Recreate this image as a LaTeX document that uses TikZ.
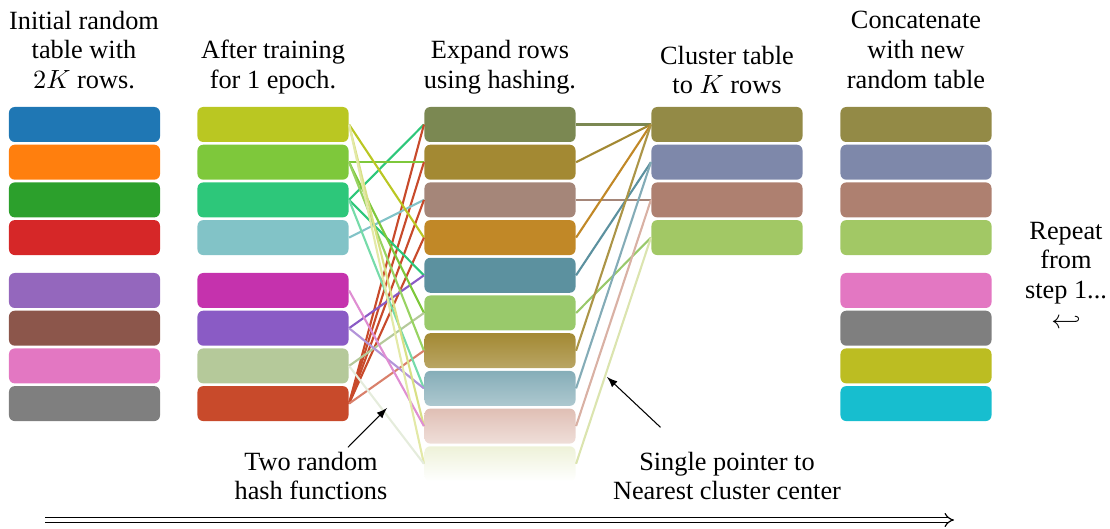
\documentclass[tikz,border=0pt]{standalone}
\usepackage{fontspec}
\setmainfont{Liberation Serif}
\usepackage{amsmath}
\usepackage{amssymb}
\usetikzlibrary{calc,arrows,arrows.meta,positioning}

% first table (tab10)
\definecolor{cinit1}{HTML}{1F77B4}
\definecolor{cinit2}{HTML}{FF7F0E}
\definecolor{cinit3}{HTML}{2CA02C}
\definecolor{cinit4}{HTML}{D62728}
\definecolor{cinit5}{HTML}{9467BD}
\definecolor{cinit6}{HTML}{8C564B}
\definecolor{cinit7}{HTML}{E377C2}
\definecolor{cinit8}{HTML}{7F7F7F}
% after one epoch
\definecolor{cepoch1}{RGB}{186,199,34}
\definecolor{cepoch2}{RGB}{126,200,59}
\definecolor{cepoch3}{RGB}{45,199,122}
\definecolor{cepoch4}{RGB}{130,195,199}
\definecolor{cepoch5}{RGB}{197,50,173}
\definecolor{cepoch6}{RGB}{138,91,197}
\definecolor{cepoch7}{RGB}{181,201,154}
\definecolor{cepoch8}{RGB}{200,74,43}
% expanded rows = mean of the two hashed rows
\colorlet{chash1}{cepoch3!50!cepoch8}
\colorlet{chash2}{cepoch2!50!cepoch8}
\colorlet{chash3}{cepoch4!50!cepoch8}
\colorlet{chash4}{cepoch1!50!cepoch8}
\colorlet{chash5}{cepoch3!50!cepoch6}
\colorlet{chash6}{cepoch2!50!cepoch7}
\colorlet{chash7}{cepoch2!50!cepoch8}
\colorlet{chash8}{cepoch3!50!cepoch6}
\colorlet{chash9}{cepoch1!50!cepoch5}
\colorlet{chash10}{cepoch1!50!cepoch7}
% cluster centers
\definecolor{cclust1}{RGB}{147,138,70}
\definecolor{cclust2}{RGB}{126,136,170}
\definecolor{cclust3}{RGB}{174,128,112}
\definecolor{cclust4}{RGB}{162,200,101}
% concatenated table
\colorlet{cconcat1}{cclust1}
\colorlet{cconcat2}{cclust2}
\colorlet{cconcat3}{cclust3}
\colorlet{cconcat4}{cclust4}
\definecolor{cconcat5}{HTML}{E377C2}
\definecolor{cconcat6}{HTML}{7F7F7F}
\definecolor{cconcat7}{HTML}{BCBD22}
\definecolor{cconcat8}{HTML}{17BECF}

\tikzset{
    rowbox/.style = {rectangle, rounded corners=2.2pt, inner sep=0pt,
        minimum width=57.4pt, minimum height=13.3pt},
    title/.style = {align=center, inner sep=0pt,
        font=\fontsize{10}{11.3}\selectfont},
    link/.style = {line width=0.8pt},
    pointer/.style = {draw, ->, line width=0.4pt},
    timeline/.style = {double, double distance=1.4pt, line width=0.45pt, -{Implies}}
}

\begin{document}
\begin{tikzpicture}[x=0.38pt, y=-0.38pt, >=latex]
    \useasboundingbox (0,0) rectangle (1110,529);
    % column titles
    \node [title] (ttlinit) at (84,50) {Initial random\\table with\\$2K$ rows.};
    \node [title] (ttlepoch) at (273,67) {After training\\for 1 epoch.};
    \node [title] (ttlhash) at (500,67) {Expand rows\\using hashing.};
    \node [title] (ttlclust) at (727,70) {Cluster table\\to $K$ rows};
    \node [title] (ttlconcat) at (916,50) {Concatenate\\with new\\random table};
    % the two tables with 2K rows
    \foreach \i [evaluate=\i as \yy using 124.5+37.7*(\i-1)+15.2*(\i>4)] in {1,...,8}{
        \node [rowbox, fill=cinit\i] (init\i) at (84.5,\yy) {};
        \node [rowbox, fill=cepoch\i] (epoch\i) at (273,\yy) {};
        \node [rowbox, fill=cconcat\i] (concat\i) at (916,\yy) {};
    }
    % expanded table, fading out at the bottom
    \foreach \i [evaluate=\i as \yy using 124.5+37.7*(\i-1)] in {1,...,6}{
        \node [rowbox, fill=chash\i] (hash\i) at (500,\yy) {};
    }
    \foreach \i [evaluate=\i as \yy using 124.5+37.7*(\i-1),
                 evaluate=\i as \ftop using int(100-25.3*(\i-7)),
                 evaluate=\i as \fbot using int(76-25.3*(\i-7))] in {7,...,10}{
        \node [rowbox, top color=chash\i!\ftop!white,
               bottom color=chash\i!\fbot!white] (hash\i) at (500,\yy) {};
    }
    \foreach \i [evaluate=\i as \yy using 124.5+37.7*(\i-1)] in {1,...,4}{
        \node [rowbox, fill=cclust\i] (clust\i) at (727,\yy) {};
    }
    % hashing: every expanded row looks up two rows
    \foreach \s/\d/\p in {3/1/100, 8/1/100, 2/2/100, 8/2/100, 4/3/100, 8/3/100,
            1/4/100, 8/4/100, 3/5/100, 6/5/100, 2/6/100, 7/6/100, 2/7/80, 8/7/70,
            3/8/65, 6/8/65, 1/9/55, 5/9/55, 1/10/40, 7/10/35}{
        \draw [link, draw=cepoch\s!\p!white] (epoch\s.east) -- (hash\d.west);
    }
    % nearest cluster center
    \foreach \s/\d/\p in {1/1/100, 2/1/100, 3/3/100, 4/1/100, 5/2/100, 6/4/100,
            7/1/90, 8/2/75, 9/3/60, 10/4/50}{
        \draw [link, draw=chash\s!\p!white] (hash\s.east) -- (clust\d.west);
    }
    % notes
    \node [title] (hashlbl) at (311,476) {Two random\\hash functions};
    \node [title] (ptrlbl) at (727,476) {Single pointer to\\Nearest cluster center};
    \node [title] (repeat) at (1066,275) {Repeat\\from\\step 1...\\$\hookleftarrow$};
    \coordinate (hashpt) at (387,408);
    \coordinate (ptrpt) at (607,377);
    \draw [pointer] ($(hashlbl.north east)+(-40,-4)$) -- (hashpt);
    \draw [pointer] ($(ptrlbl.north west)+(48,-24)$) -- (ptrpt);
    % time goes on
    \coordinate (tstart) at (45,520);
    \coordinate (tend) at (954,520);
    \draw [timeline] (tstart) -- (tend);
\end{tikzpicture}
\end{document}
